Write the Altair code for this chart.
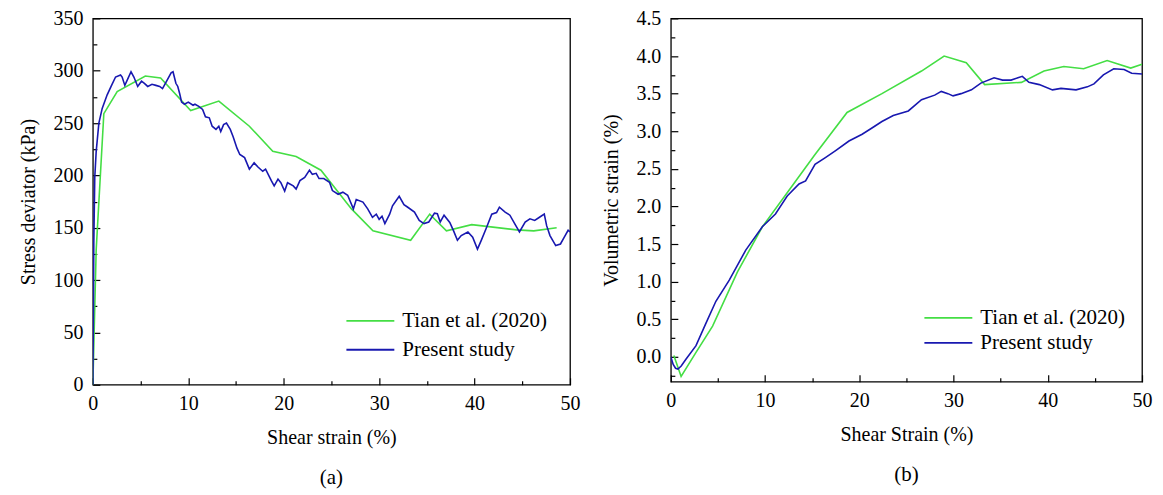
import altair as alt
import pandas as pd

FONT = "Liberation Serif, Times New Roman, serif"
GREEN = "#44de44"
BLUE = "#1818b0"
SERIES = ["Tian et al. (2020)", "Present study"]

# ---- panel (a): stress deviator ----
a_green_x = [0, 0.35, 1.15, 2.55, 5.5, 7.1, 10.25, 13.2, 16.4, 18.85, 21.3, 23.9, 27.1, 29.35,
             33.3, 35.3, 37.05, 39.7, 44.4, 46.2, 48.6]
a_green_y = [0, 129, 259, 280, 295, 293, 262, 271, 247, 223, 218, 205, 168, 147,
             138, 163, 147, 153, 148, 147, 150]

a_blue_x = [0, 0.05, 0.1, 0.2, 0.35, 0.63, 0.98, 1.5, 1.96, 2.38, 2.9, 3.07, 3.35, 3.6, 4.0, 4.3,
            4.7, 5.1, 5.4, 5.75, 6.2, 6.6, 7.0, 7.3, 7.6, 8.2, 8.4, 8.7, 8.9, 9.1, 9.3, 9.6, 10.0,
            10.5, 10.7, 11.1, 11.5, 11.8, 12.2, 12.5, 12.9, 13.2, 13.4, 13.7, 14.0, 14.4, 14.7,
            15.1, 15.4, 15.9, 16.4, 16.9, 17.3, 17.8, 18.1, 18.7, 19.0, 19.4, 19.7, 20.1, 20.4,
            21.0, 21.3, 21.7, 22.2, 22.7, 23.0, 23.4, 23.7, 24.2, 24.8, 25.1, 25.7, 26.2, 26.7,
            27.3, 27.6, 28.3, 28.8, 29.3, 29.7, 30.0, 30.3, 30.6, 31.1, 31.4, 32.1, 32.6, 33.0,
            33.7, 34.2, 34.7, 35.2, 35.8, 36.1, 36.4, 36.8, 37.4, 37.8, 38.2, 38.6, 39.3, 39.8,
            40.3, 40.7, 41.2, 41.8, 42.3, 42.6, 43.2, 43.7, 44.2, 44.7, 45.3, 45.8, 46.3, 46.8,
            47.3, 47.55, 47.9, 48.5, 49.0, 49.4, 49.8, 50.0]
a_blue_y = [0, 60, 135, 198, 223, 250, 264, 277, 286, 294, 296, 294, 286, 291, 299, 294,
            285, 290, 288, 285, 287, 286, 285, 283, 288, 298, 299, 288, 285, 278, 270, 268, 270,
            267, 268, 266, 263, 256, 255, 247, 244, 247, 242, 248.5, 250, 244, 237,
            226, 220, 217, 206, 212, 208, 204, 206, 195, 190, 196.5, 193, 185, 193,
            190, 187, 195, 198, 205, 201, 202, 197, 197, 193.5, 185.5, 182, 184, 181,
            168, 177, 174.5, 168, 160, 163, 158, 161, 154, 163, 171, 180, 172, 169.6,
            165, 157, 154, 155.5, 164, 163.5, 155.5, 162, 155, 147, 138, 142.5, 146, 141,
            129.6, 138, 149, 163, 164.5, 169.6, 165, 162, 154, 146, 155.5, 158.5, 157, 160,
            163, 152, 142.5, 133, 134.5, 141, 147.6, 146]

# ---- panel (b): volumetric strain ----
b_green_x = [0.32, 1.09, 2.67, 4.43, 7.07, 9.71, 12.5, 15.3, 18.7, 22.4, 26.6, 29.0, 31.35, 33.3,
             37.2, 39.6, 41.7, 43.8, 46.3, 48.8, 50]
b_green_y = [0.02, -0.26, 0.06, 0.41, 1.13, 1.73, 2.21, 2.69, 3.25, 3.5, 3.8, 4.0, 3.91, 3.62,
             3.65, 3.8, 3.86, 3.83, 3.94, 3.84, 3.89]

b_blue_x = [0, 0.25, 0.5, 0.75, 1.1, 1.6, 2.67, 3.73, 4.78, 6.2, 7.95, 9.71, 11.1, 12.35, 13.6,
            14.3, 15.3, 16.4, 17.45, 18.9, 20.3, 21.3, 22.4, 23.6, 25.2, 26.6, 28.0, 28.7, 29.4,
            29.95, 30.8, 31.9, 32.9, 34.3, 35.2, 36.1, 37.3, 38.0, 39.1, 40.5, 41.4, 43.0, 44.2,
            44.9, 45.9, 47.0, 48.1, 48.9, 50]
b_blue_y = [0.0, -0.1, -0.15, -0.16, -0.12, -0.03, 0.15, 0.45, 0.74, 1.02, 1.42, 1.73, 1.9, 2.14,
            2.3, 2.34, 2.56, 2.65, 2.74, 2.87, 2.96, 3.04, 3.13, 3.21, 3.27, 3.42, 3.48, 3.53, 3.50,
            3.47, 3.50, 3.55, 3.64, 3.71, 3.68, 3.68, 3.73, 3.65, 3.62, 3.55, 3.57, 3.55, 3.59,
            3.63, 3.75, 3.83, 3.82, 3.77, 3.76]

a_x_ticks = list(range(0, 51, 5))
a_y_ticks = list(range(0, 351, 25))
b_y_ticks = [round(-0.25 + 0.25 * i, 2) for i in range(20)]


def frame(gx, gy, bx, by):
    g = pd.DataFrame({"x": gx, "y": gy, "series": SERIES[0], "i": range(len(gx))})
    b = pd.DataFrame({"x": bx, "y": by, "series": SERIES[1], "i": range(len(bx))})
    return pd.concat([g, b], ignore_index=True)


def axis_common(**kw):
    base = dict(domain=False, labelFont=FONT, titleFont=FONT, labelFontSize=20, labelColor="black",
                titleFontSize=20, titleFontWeight="normal", titleColor="black",
                tickColor="black", tickWidth=1.2, grid=False, labelFlush=False,
                labelOverlap=False)
    base.update(kw)
    return alt.Axis(**base)


def panel(df, xtitle, ytitle, ydomain, yticks, ymajor_expr, yfmt, letter, w, h,
          legend_y, row_pad, sym_w):
    x_axis = axis_common(values=a_x_ticks, title=xtitle,
                         labelExpr="datum.value % 10 === 0 ? datum.label : ''",
                         tickSize={"expr": "datum.value % 10 === 0 ? -7 : -4"},
                         labelPadding=16, titlePadding=11)
    y_axis = axis_common(values=yticks, title=ytitle, format=yfmt,
                         labelExpr=f"({ymajor_expr}) ? datum.label : ''",
                         tickSize={"expr": f"({ymajor_expr}) ? -7 : -4"},
                         labelPadding=17, titlePadding=14)
    legend = alt.Legend(title=None, orient="none", legendX=253, legendY=legend_y,
                        symbolType="stroke", symbolSize=2304, symbolStrokeWidth=sym_w,
                        labelFont=FONT, labelFontSize=21, labelColor="black",
                        labelOffset=7, rowPadding=row_pad, clipHeight=20)
    return alt.Chart(df).mark_line(strokeWidth=1.6, clip=True).encode(
        x=alt.X("x:Q", scale=alt.Scale(domain=[0, 50], nice=False, zero=False), axis=x_axis),
        y=alt.Y("y:Q", scale=alt.Scale(domain=ydomain, nice=False, zero=False), axis=y_axis),
        color=alt.Color("series:N", scale=alt.Scale(domain=SERIES, range=[GREEN, BLUE]),
                        legend=legend),
        order="i:Q",
    ).properties(
        width=w, height=h,
        title=alt.TitleParams(letter, orient="bottom", font=FONT, fontSize=21,
                              fontWeight="normal", color="black", offset=19),
    )


left = panel(frame(a_green_x, a_green_y, a_blue_x, a_blue_y), "Shear strain (%)",
             "Stress deviator (kPa)", [0, 350], a_y_ticks, "datum.value % 50 === 0", "d",
             "(a)", 478, 367, 293, 8, 2)
right = panel(frame(b_green_x, b_green_y, b_blue_x, b_blue_y), "Shear Strain (%)",
              "Volumetric strain (%)", [-0.33, 4.5], b_y_ticks,
              "abs(round(datum.value * 4)) % 2 === 0", ".1f", "(b)", 472, 364, 290, 4, 1.6)

chart = alt.hconcat(left, right, spacing=20).resolve_scale(
    color="independent"
).resolve_legend(color="independent").properties(
    padding={"left": 10, "top": -1, "right": 2, "bottom": 2},
    background="white",
).configure_view(
    stroke="black", strokeWidth=1.3
).configure_concat(spacing=20)

chart.save("out.html", embed_options={"renderer": "svg", "actions": False})
